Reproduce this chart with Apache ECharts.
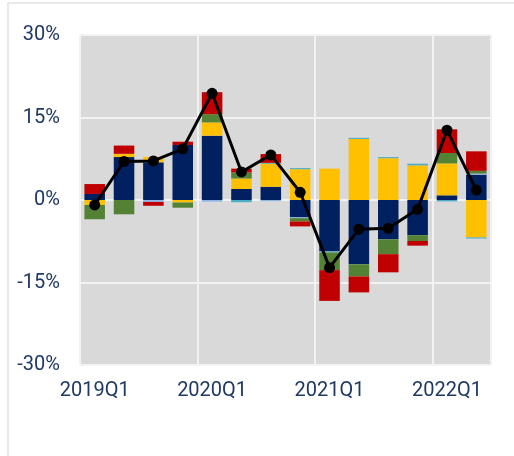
<!DOCTYPE html>
<html>
<head>
<meta charset="utf-8">
<script src="https://cdn.jsdelivr.net/npm/echarts@6/dist/echarts.min.js"></script>
<style>
  html, body { margin: 0; padding: 0; background: #fff; }
  #frame { position: absolute; left: 7px; top: 2px; width: 507px; height: 454px;
           border-left: 2px solid #e9e9e9; border-top: 2px solid #e9e9e9; box-sizing: border-box; }
  #chart { position: absolute; left: 0; top: 0; width: 514px; height: 456px; }
</style>
</head>
<body>
<div id="frame"></div>
<div id="chart"></div>
<script>
// quarters
var categories = ['2019Q1', '2019Q2', '2019Q3', '2019Q4', '2020Q1', '2020Q2', '2020Q3', '2020Q4',
                  '2021Q1', '2021Q2', '2021Q3', '2021Q4', '2022Q1', '2022Q2'];

// contributions (%)
var navy      = [1.1, 7.8, 6.85, 10.0, 11.7, 2.0, 2.4, -3.15, -9.3, -11.7, -7.15, -6.4, 0.85, 4.6];
var lightBlue = [0, 0, -0.35, 0, -0.3, 0, -0.2, -0.15, 0, 0, 0, 0, 0, 0.2];
var yellow    = [-0.9, 0.6, 1.0, -0.45, 2.4, 1.9, 4.2, 5.6, 5.7, 11.1, 7.6, 6.3, 5.8, -6.8];
var teal      = [0, 0, 0, 0, 0, -0.4, 0.15, 0.2, -0.25, 0.2, 0.2, 0.3, -0.25, -0.2];
var green     = [-2.6, -2.6, 0, -0.95, 1.5, 1.1, 0, -0.6, -3.2, -2.2, -2.7, -1.05, 1.9, 0.5];
var red       = [1.8, 1.5, -0.7, 0.6, 4.0, 0.7, 1.6, -0.9, -5.6, -2.9, -3.3, -0.85, 4.3, 3.55];

// total growth line
var total     = [-0.9, 7.0, 7.1, 9.3, 19.4, 5.1, 8.2, 1.4, -12.3, -5.3, -5.15, -1.7, 12.7, 1.8];

var yTicks = { min: -30, max: 30, interval: 15 };

function barSeries(name, data, color) {
    return {
        name: name,
        type: 'bar',
        stack: 'total',
        barCategoryGap: '30%',
        data: data,
        itemStyle: { color: color }
    };
}

var myChart = echarts.init(document.getElementById('chart'), null, { renderer: 'canvas' });

myChart.setOption({
    animation: false,
    grid: {
        left: 80,
        right: 23,
        top: 35,
        bottom: 91,
        show: true,
        backgroundColor: '#d9d9d9',
        borderWidth: 0
    },
    xAxis: {
        type: 'category',
        data: categories,
        axisLine: { show: false },
        axisTick: { show: false, interval: 3 },
        axisLabel: {
            interval: 3,
            margin: 16,
            color: '#1f3864',
            fontFamily: 'Roboto',
            fontSize: 20
        },
        splitLine: {
            show: true,
            interval: 3,
            lineStyle: { color: '#f2f2f2', width: 2 }
        }
    },
    yAxis: {
        type: 'value',
        min: yTicks.min,
        max: yTicks.max,
        interval: yTicks.interval,
        axisLine: { show: false },
        axisTick: { show: false },
        axisLabel: {
            formatter: '{value}%',
            margin: 20,
            color: '#1f3864',
            fontFamily: 'Roboto',
            fontSize: 20
        },
        splitLine: {
            lineStyle: { color: '#f2f2f2', width: 2 }
        }
    },
    series: [
        barSeries('navy', navy, '#002060'),
        barSeries('lightBlue', lightBlue, '#8eb4e3'),
        barSeries('yellow', yellow, '#ffc000'),
        barSeries('teal', teal, '#4bacc6'),
        barSeries('green', green, '#548235'),
        barSeries('red', red, '#c00000'),
        {
            name: 'total',
            type: 'line',
            data: total,
            z: 10,
            symbol: 'circle',
            symbolSize: 11,
            itemStyle: { color: '#000' },
            lineStyle: { color: '#000', width: 3 }
        }
    ]
});
</script>
</body>
</html>
